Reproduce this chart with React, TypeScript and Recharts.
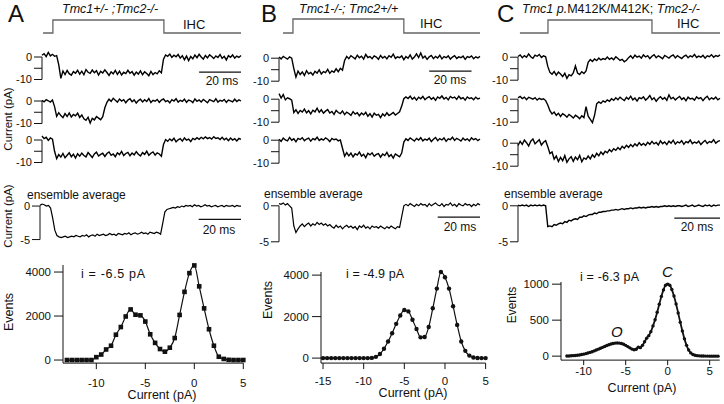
import React from 'react';
import { LineChart, Line, XAxis, YAxis, ReferenceLine } from 'recharts';

const FONT = '"Liberation Sans", Arial, Helvetica, sans-serif';
const INK = '#111';
const STIM = '#666';

// stimulus timing in ms: start, step on, step off, end
const stimTimesA = [0.5, 5.2, 58.2, 95];
const stimTimesB = [1.9, 6.6, 59, 95];
const stimTimesC = [0.9, 14.1, 63, 95];
const stimLevels = [0, 1, 0, 0];

// single-channel records, pA, one sample per ms (t = 0..95)
const traceA1 = [
  0.8, 1.5, 0.2, 2.0, 0.5, 1.2, 0.3, 0.6, -3.5, -9.5,
  -6.2, -7.8, -6.0, -7.4, -8.1, -6.5, -7.2, -5.9, -7.6, -6.3,
  -7.9, -5.6, -6.8, -7.3, -5.8, -7.0, -6.1, -8.0, -6.4, -7.1,
  -5.7, -6.9, -8.2, -6.6, -7.5, -6.0, -7.7, -6.3, -8.0, -6.8,
  -7.4, -5.9, -7.2, -6.5, -8.1, -6.7, -7.6, -6.2, -7.9, -6.6,
  -7.3, -8.3, -6.4, -7.8, -6.9, -7.5, -6.1, -7.0, -1.0, 0.9,
  0.3, 1.3, -0.2, 0.8, 0.1, 1.1, -0.5, 0.6, -1.2, 0.4,
  -1.6, 0.2, -0.8, 0.9, -0.3, 1.2, 0.0, -0.9, 0.7, -0.4,
  1.0, 0.2, -0.7, 0.5, -0.2, 1.1, -0.6, 0.3, -1.3, 0.6,
  -0.1, 0.9, -0.5, 0.4, -0.2, 0.7,
];
const traceA2 = [
  0.3, -0.4, 0.6, 0.1, -0.5, 0.4, -2.5, -6.8, -5.2, -6.5,
  -7.4, -5.6, -6.9, -5.3, -7.1, -6.0, -6.6, -5.4, -7.3, -6.2,
  -7.9, -8.6, -7.2, -9.8, -7.7, -8.4, -6.9, -7.6, -8.3, -7.0,
  -3.0, -0.6, 0.8, -0.2, 1.2, 0.3, -0.5, 0.9, 0.0, 0.6,
  -0.8, 0.4, 1.0, -0.3, 0.5, -0.9, 0.2, 0.8, -0.4, 0.6,
  -0.2, 1.1, -0.7, 0.3, -0.1, 0.7, -0.6, 0.4, 0.9, -0.3,
  0.2, -0.8, 0.6, 0.0, 1.0, -0.5, 0.3, -0.2, 0.8, -0.6,
  0.4, 0.1, -0.7, 0.9, -0.1, 0.5, -0.4, 0.7, 0.0, -0.8,
  0.6, 0.2, -0.3, 1.0, -0.5, 0.3, -0.1, 0.7, -0.6, 0.4,
  0.1, -0.4, 0.8, -0.2, 0.5, 0.0,
];
const traceA3 = [
  1.8, 0.6, 1.2, -0.2, 0.9, 0.4, -5.0, -8.3, -6.5, -7.6,
  -6.0, -7.9, -6.8, -5.7, -7.4, -6.3, -8.0, -6.1, -7.2, -5.8,
  -6.9, -7.5, -5.6, -6.7, -7.8, -6.2, -5.4, -7.1, -6.4, -5.9,
  -7.3, -6.0, -5.3, -6.8, -6.2, -7.4, -5.7, -6.5, -5.1, -6.9,
  -6.0, -5.5, -7.0, -5.8, -6.6, -5.2, -6.3, -7.1, -5.6, -6.4,
  -5.0, -6.8, -5.9, -5.3, -6.7, -5.7, -6.2, -7.2, -2.0, 0.2,
  -0.6, 0.5, -0.3, 0.8, -0.8, 0.1, 0.6, -0.5, 0.9, -0.1,
  0.4, -0.7, 0.7, 0.2, 1.0, 0.3, 1.2, 0.5, 1.4, 0.6,
  1.1, 0.4, 1.5, 0.7, 1.0, 0.2, 1.2, 0.1, 0.8, -0.3,
  0.9, 0.0, 0.6, -0.4, 0.7, 0.3,
];
const ensembleA = [
  0.1, 0.3, 0.2, 0.0, 0.1, -0.3, -1.8, -3.6, -4.4, -4.6,
  -4.7, -4.6, -4.5, -4.7, -4.6, -4.5, -4.6, -4.4, -4.5, -4.6,
  -4.4, -4.5, -4.3, -4.6, -4.4, -4.3, -4.5, -4.2, -4.4, -4.3,
  -4.2, -4.4, -4.3, -4.1, -4.3, -4.2, -4.4, -4.1, -4.2, -4.3,
  -4.1, -4.2, -4.0, -4.3, -4.1, -4.0, -4.2, -4.1, -3.9, -4.1,
  -4.0, -4.2, -3.9, -4.0, -4.1, -3.9, -4.0, -4.2, -2.6, -0.9,
  -0.5, -0.4, -0.3, -0.2, -0.3, -0.1, -0.2, 0.0, -0.1, 0.1,
  0.0, 0.1, -0.1, 0.2, 0.0, 0.1, -0.1, 0.0, 0.2, 0.0,
  0.1, -0.1, 0.0, 0.1, -0.1, 0.0, 0.1, -0.1, 0.1, 0.0,
  0.0, 0.1, -0.1, 0.1, 0.0, 0.0,
];

const traceB1 = [
  0.5, -0.3, 0.8, 0.2, -0.4, 0.6, 0.0, -4.5, -8.2, -5.6,
  -7.1, -6.0, -7.5, -5.4, -6.8, -6.2, -7.3, -5.7, -6.5, -5.1,
  -6.9, -5.8, -6.3, -4.9, -6.6, -5.5, -6.1, -4.6, -5.9, -4.4,
  -5.2, -1.0, 0.8, -0.2, 1.1, 0.4, -0.3, 1.3, 0.2, 0.9,
  -0.4, 1.6, 0.3, 0.7, -0.2, 1.0, 0.5, -0.5, 1.2, 0.1,
  0.8, -0.3, 1.1, 0.4, 1.8, -0.1, 0.6, 0.2, 1.0, -0.6,
  0.7, 0.0, 1.4, -0.4, 0.5, 1.9, 0.3, 2.3, 0.1, 0.9,
  -0.5, 0.6, 1.2, -0.2, 0.8, 0.1, 1.3, -0.3, 0.7, 0.2,
  1.0, -0.4, 0.5, 1.1, -0.1, 0.6, 0.2, 0.9, -0.5, 0.7,
  0.3, 1.0, -0.2, 0.6, 0.1, 0.8,
];
const traceB2 = [
  2.4, 0.5, 2.0, -0.3, 0.6, 0.2, -0.4, -5.8, -4.6, -6.2,
  -4.9, -5.6, -4.3, -5.9, -5.0, -6.4, -4.8, -5.5, -3.9, -5.7,
  -4.6, -6.1, -5.2, -4.5, -6.0, -5.3, -6.6, -4.9, -5.8, -6.3,
  -5.1, -6.7, -5.6, -6.2, -7.0, -5.4, -6.5, -5.9, -7.2, -6.0,
  -6.8, -5.7, -7.4, -6.3, -7.8, -6.1, -7.0, -6.6, -8.0, -6.4,
  -7.3, -5.9, -7.1, -6.5, -5.8, -6.9, -6.2, -5.5, -3.0, 0.2,
  1.0, 0.3, 1.3, 0.0, 0.8, -0.4, 0.9, 0.2, 1.2, -0.2,
  0.6, 1.1, 0.0, 0.7, -0.5, 1.0, 0.4, 1.4, 0.1, 0.8,
  -0.3, 1.2, 0.5, 0.9, -0.1, 1.3, 0.2, 0.7, -0.4, 1.0,
  0.3, 0.6, -0.2, 0.9, 0.1, 0.5,
];
const traceB3 = [
  0.4, -0.5, 0.9, 0.1, -0.3, 1.2, 0.0, 0.6, -0.7, 0.8,
  0.3, 1.1, -0.2, 0.5, 0.9, -0.4, 0.7, 0.2, 1.3, -0.1,
  0.6, 0.0, 1.0, 0.4, -0.6, 0.8, 0.2, 0.5, -0.3, 0.1,
  -3.5, -7.0, -5.4, -6.8, -5.6, -7.3, -5.9, -6.5, -5.2, -6.9,
  -6.1, -7.6, -5.7, -6.4, -5.5, -7.0, -6.2, -5.8, -7.4, -6.0,
  -6.7, -5.3, -7.1, -6.3, -7.8, -6.0, -6.6, -7.2, -5.6, -0.8,
  0.6, -0.1, 1.0, 0.3, -0.4, 0.8, 0.1, 1.1, -0.3, 0.5,
  0.0, 0.9, -0.6, 0.4, 1.2, -0.2, 0.7, 0.1, 1.0, -0.5,
  0.6, 0.2, 1.3, -0.1, 0.8, 0.3, -0.4, 0.9, 0.0, 0.6,
  -0.3, 1.0, 0.2, 0.7, -0.2, 0.5,
];
const ensembleB = [
  0.3, 0.2, 0.4, 0.1, 0.3, 0.0, -0.3, -2.8, -3.7, -3.2,
  -2.8, -2.5, -2.9, -2.6, -2.4, -2.8, -2.5, -2.7, -2.3, -2.6,
  -2.4, -2.7, -2.5, -2.8, -2.6, -2.9, -3.1, -2.7, -3.0, -2.8,
  -3.2, -2.9, -2.7, -3.0, -2.8, -3.1, -2.9, -3.3, -2.8, -3.0,
  -2.7, -3.1, -2.9, -3.2, -2.8, -3.0, -2.9, -3.1, -2.8, -3.0,
  -3.2, -2.9, -3.1, -2.8, -3.0, -3.2, -2.9, -3.0, -1.5, 0.0,
  0.2, 0.0, 0.3, 0.1, -0.1, 0.2, 0.0, 0.3, 0.1, 0.2,
  -0.1, 0.3, 0.0, 0.2, 0.4, 0.1, 0.0, 0.3, -0.1, 0.2,
  0.1, 0.4, 0.0, 0.2, -0.1, 0.3, 0.1, 0.0, 0.3, 0.1,
  0.2, -0.1, 0.2, 0.0, 0.3, 0.1,
];

const traceC1 = [
  0.3, 1.0, -0.2, 0.7, 0.0, 1.4, 0.2, -0.5, 0.9, 0.4,
  1.2, -0.1, 0.6, 0.2, -4.0, -6.6, -7.4, -6.2, -7.8, -6.5,
  -7.3, -8.4, -7.0, -9.2, -7.6, -8.1, -6.8, -3.8, -6.9, -7.5,
  -6.3, -7.1, -6.0, -2.2, -1.0, -1.9, -0.8, -1.5, -0.4, -1.2,
  -0.6, -1.0, 0.1, -0.9, -0.3, -1.1, 0.2, -0.6, -1.4, -0.9,
  -2.0, -1.3, -0.2, 0.6, -0.5, 0.9, 0.0, 0.5, -0.4, 1.0,
  0.1, 0.7, -0.6, 0.4, 1.1, -0.2, 0.6, 0.0, -0.7, 0.8,
  0.2, -0.4, 0.5, 1.0, -0.3, 0.7, 0.0, -0.6, 0.4, 0.9,
  -0.2, 0.6, 0.1, 1.2, -0.1, 0.5, 0.0, 0.8, -0.4, 0.6,
  0.2, 1.1, 0.0, 0.7, 0.3, 1.0,
];
const traceC2 = [
  0.6, 1.2, 0.3, 0.9, -0.2, 0.8, 0.5, 0.0, 0.7, -0.4,
  0.4, -0.1, 0.2, -0.6, -2.5, -5.0, -6.4, -5.6, -7.0, -6.1,
  -7.5, -6.3, -6.9, -7.8, -6.6, -7.3, -8.2, -7.0, -7.6, -8.5,
  -7.2, -8.0, -3.2, -7.4, -8.8, -10.2, -7.0, -2.0, -1.2, -1.8,
  -0.7, -1.3, -0.3, -0.9, 0.2, -0.5, 0.6, -0.2, 0.9, 0.1,
  -0.6, 0.8, 0.0, 1.3, -0.3, 0.5, -0.8, 0.7, 0.2, 1.0,
  -0.4, 0.4, 1.6, -0.2, 0.6, -0.9, 0.3, 1.1, 0.0, 0.7,
  -0.5, 1.9, 0.2, 0.8, -0.3, 0.5, 1.2, -0.1, 0.6, -0.7,
  0.9, 0.1, 0.4, -0.4, 1.0, 0.2, 0.7, -0.6, 0.5, 1.3,
  -0.2, 0.6, 0.0, 0.9, -0.3, 0.4,
];
const traceC3 = [
  -1.0, 0.8, -0.5, 1.4, 0.2, -1.2, 0.9, 1.8, -0.3, 0.6,
  1.5, -0.8, 0.4, 1.1, -1.5, -4.5, -3.8, -6.9, -5.6, -8.0,
  -6.2, -7.6, -5.4, -8.3, -6.8, -5.9, -7.9, -6.0, -7.2, -5.3,
  -8.1, -6.4, -7.0, -5.6, -6.8, -5.0, -6.1, -4.4, -5.5, -3.8,
  -4.9, -3.5, -4.2, -2.8, -3.7, -2.4, -3.1, -1.9, -2.8, -1.4,
  -2.2, -0.9, -1.8, -0.6, -1.5, -0.3, -1.2, 0.2, -0.9, -0.1,
  -1.0, 0.4, -0.5, 0.8, -0.3, 0.3, -0.8, 1.0, -0.2, 0.5,
  -0.6, 0.9, 0.0, 1.3, -0.4, 0.6, 0.1, 1.1, -0.5, 0.7,
  0.2, 1.4, -0.2, 0.5, 0.0, 0.9, -0.6, 0.4, 1.2, -0.1,
  0.7, 0.3, 1.5, 0.0, 0.8, 1.1,
];
const ensembleC = [
  0.1, 0.0, 0.1, 0.0, 0.1, -0.1, 0.1, 0.0, 0.1, 0.0,
  0.1, 0.0, 0.1, 0.0, -2.9, -2.8, -2.9, -2.6, -2.7, -2.5,
  -2.4, -2.5, -2.2, -2.3, -2.0, -2.1, -1.9, -1.8, -1.9, -1.6,
  -1.6, -1.4, -1.5, -1.3, -1.2, -1.2, -1.0, -1.1, -0.9, -0.9,
  -0.8, -0.8, -0.7, -0.7, -0.6, -0.6, -0.5, -0.6, -0.5, -0.4,
  -0.5, -0.4, -0.4, -0.3, -0.4, -0.3, -0.3, -0.2, -0.3, -0.2,
  -0.3, -0.2, -0.2, -0.1, -0.2, -0.1, -0.2, -0.1, -0.1, 0.0,
  -0.1, 0.0, -0.1, 0.0, -0.1, 0.0, 0.0, -0.1, 0.0, 0.1,
  -0.1, 0.0, 0.1, -0.1, 0.0, 0.1, 0.0, -0.1, 0.1, 0.0,
  0.1, -0.1, 0.1, 0.0, 0.1, 0.1,
];

// all-points amplitude histograms
const histAX = [
  -13, -12.5, -12, -11.5, -11, -10.5, -10, -9.5, -9, -8.5, -8, -7.5, -7, -6.5, -6, -5.5, -5, -4.5, -4,
  -3.5, -3, -2.5, -2, -1.5, -1, -0.5, 0, 0.5, 1, 1.5, 2, 2.5, 3, 3.5, 4, 4.5, 5,
];
const histAY = [
  0, 0, 0, 0, 0, 0, 130, 250, 480, 650, 1150, 1500, 1980, 2300, 2060, 2030, 1750, 1170, 780,
  500, 380, 560, 1000, 2050, 3100, 3950, 4300, 3350, 2350, 1400, 650, 150, 50, 10, 0, 0, 0,
];
const histBX = [
  -15, -14.5, -14, -13.5, -13, -12.5, -12, -11.5, -11, -10.5, -10, -9.5, -9, -8.5, -8, -7.5, -7,
  -6.5, -6, -5.5, -5, -4.5, -4, -3.5, -3, -2.5, -2, -1.5, -1, -0.5, 0, 0.5, 1, 1.5, 2, 2.5, 3,
  3.5, 4, 4.5, 5,
];
const histBY = [
  0, 0, 0, 0, 0, 0, 0, 0, 0, 0, 0, 0, 10, 60, 200, 450, 800,
  1200, 1650, 2050, 2320, 2250, 1850, 1400, 1000, 1020, 1500, 2400, 3350, 4150, 3900, 3350, 2500, 1600, 800, 350, 120,
  30, 5, 0, 0,
];
const histCX = [
  -12, -11.75, -11.5, -11.25, -11, -10.75, -10.5, -10.25, -10, -9.75, -9.5, -9.25, -9, -8.75,
  -8.5, -8.25, -8, -7.75, -7.5, -7.25, -7, -6.75, -6.5, -6.25, -6, -5.75, -5.5, -5.25, -5,
  -4.75, -4.5, -4.25, -4, -3.75, -3.5, -3.25, -3, -2.75, -2.5, -2.25, -2, -1.75, -1.5, -1.25,
  -1, -0.75, -0.5, -0.25, 0, 0.25, 0.5, 0.75, 1, 1.25, 1.5, 1.75, 2, 2.25, 2.5, 2.75, 3, 3.25,
  3.5, 3.75, 4, 4.25, 4.5, 4.75, 5, 5.25, 5.5, 5.75, 6,
];
const histCY = [
  2, 3, 5, 7, 10, 13, 17, 22, 28, 35, 43, 52, 62, 73,
  85, 97, 110, 122, 135, 147, 158, 168, 176, 181, 183, 181, 175, 165, 150,
  133, 115, 98, 88, 95, 125, 118, 150, 200, 250, 285, 340, 420, 505, 610,
  720, 830, 920, 985, 1000, 985, 925, 835, 725, 600, 470, 350, 240, 150, 85, 45, 22, 12,
  7, 4, 3, 2, 1, 1, 0, 0, 0, 0, 0,
];

type Bar = { y: number; from: number; to: number };

type TraceProps = {
  values: number[];
  axisX: number;
  zeroY: number;
  pxPerPA: number;
  plotW: number;
  yMin: number;
  yMax: number;
  ticks: number[];
  labels: number[];
  bracket: number;
  lineW: number;
  bar?: Bar;
};

function Trace({ values, axisX, zeroY, pxPerPA, plotW, yMin, yMax, ticks, labels, bracket, lineW, bar }: TraceProps) {
  const axisW = 30;
  const rows = values.map((v, i) => ({ t: i, v }));
  const h = (yMax - yMin) * pxPerPA;
  return (
    <div style={{ position: 'absolute', left: axisX - axisW, top: zeroY - yMax * pxPerPA }}>
      <LineChart width={axisW + plotW + 2} height={h} data={rows} margin={{ top: 0, right: 2, bottom: 0, left: 0 }}>
        <XAxis type="number" dataKey="t" domain={[0, 95]} hide />
        <YAxis
          width={axisW}
          type="number"
          domain={[yMin, yMax]}
          ticks={ticks}
          interval={0}
          axisLine={false}
          tickLine={{ stroke: INK }}
          tickSize={8}
          tickMargin={2}
          tick={(p: any) =>
            labels.includes(p.payload.value) ? (
              <text x={p.x} y={p.y} dy="0.36em" textAnchor="end" fontSize={11} fontFamily={FONT} fill={INK}>
                {p.payload.value}
              </text>
            ) : (
              <g />
            )
          }
        />
        <ReferenceLine segment={[{ x: 0, y: 0 }, { x: 0, y: bracket }]} stroke={INK} strokeWidth={1} />
        <Line dataKey="v" type="linear" dot={false} stroke="#000" strokeWidth={lineW} isAnimationActive={false} />
        {bar && (
          <ReferenceLine segment={[{ x: bar.from, y: bar.y }, { x: bar.to, y: bar.y }]} stroke={INK} strokeWidth={1.2} />
        )}
      </LineChart>
    </div>
  );
}

function Stimulus({ times, axisX, plotW, top, bottom }: { times: number[]; axisX: number; plotW: number; top: number; bottom: number }) {
  const rows = times.map((t, i) => ({ t, v: stimLevels[i] }));
  return (
    <div style={{ position: 'absolute', left: axisX - 1, top: top - 2 }}>
      <LineChart width={plotW + 2} height={bottom - top + 4} data={rows} margin={{ top: 2, right: 1, bottom: 2, left: 1 }}>
        <XAxis type="number" dataKey="t" domain={[0, 95]} hide />
        <YAxis type="number" domain={[0, 1]} hide />
        <Line dataKey="v" type="stepAfter" dot={false} stroke={STIM} strokeWidth={1.3} isAnimationActive={false} />
      </LineChart>
    </div>
  );
}

type HistProps = {
  xs: number[];
  ys: number[];
  axisX: number;
  zeroY: number;
  pxPerEvt: number;
  pxPerPA: number;
  xDomain: [number, number];
  yDomain: [number, number];
  xTicks: number[];
  yTicks: number[];
  marker: 'square' | 'circle';
  markerSize: number;
  lineW: number;
  xTickSize: number;
  xTickMargin: number;
};

function Histogram(p: HistProps) {
  const yAxisW = 40;
  const xAxisH = 26;
  const padTop = 6;
  const rows = p.xs.map((x, i) => ({ x, n: p.ys[i] }));
  const plotW = (p.xDomain[1] - p.xDomain[0]) * p.pxPerPA;
  const plotH = (p.yDomain[1] - p.yDomain[0]) * p.pxPerEvt;
  const s = p.markerSize;
  const dot = (d: any) =>
    p.marker === 'square' ? (
      <rect key={`d${d.index}`} x={d.cx - s / 2} y={d.cy - s / 2} width={s} height={s} fill={INK} />
    ) : (
      <circle key={`d${d.index}`} cx={d.cx} cy={d.cy} r={s / 2} fill={INK} />
    );
  return (
    <div style={{ position: 'absolute', left: p.axisX - yAxisW, top: p.zeroY - p.yDomain[1] * p.pxPerEvt - padTop }}>
      <LineChart
        width={yAxisW + plotW + 8}
        height={plotH + xAxisH + padTop}
        data={rows}
        margin={{ top: padTop, right: 8, bottom: 0, left: 0 }}
      >
        <XAxis
          type="number"
          dataKey="x"
          domain={p.xDomain}
          ticks={p.xTicks}
          interval={0}
          height={xAxisH}
          axisLine={{ stroke: INK }}
          tickLine={{ stroke: INK }}
          tickSize={p.xTickSize}
          tickMargin={p.xTickMargin}
          tick={{ fill: INK, fontSize: 11.5, fontFamily: FONT }}
        />
        <YAxis
          width={yAxisW}
          type="number"
          domain={p.yDomain}
          ticks={p.yTicks}
          interval={0}
          axisLine={{ stroke: INK }}
          tickLine={{ stroke: INK }}
          tickSize={9}
          tickMargin={3}
          tick={{ fill: INK, fontSize: 11.5, fontFamily: FONT }}
        />
        <Line dataKey="n" type="monotone" stroke={INK} strokeWidth={p.lineW} dot={dot} isAnimationActive={false} />
      </LineChart>
    </div>
  );
}

const txt = { fontFamily: FONT, fill: INK } as const;

export default function App() {
  const trTicks = [0, -5, -10];
  const trLabels = [0, -10];
  const enTicks = [0, -5];
  return (
    <div style={{ position: 'absolute', left: 0, top: 0, width: 724, height: 404, background: '#fff', overflow: 'hidden' }}>
      {/* panel A */}
      <Stimulus times={stimTimesA} axisX={42} plotW={199} top={20} bottom={33} />
      <Trace values={traceA1} axisX={42} zeroY={57} pxPerPA={2.25} plotW={199} yMin={-14} yMax={4} ticks={trTicks} labels={trLabels} bracket={-10} lineW={1.4} bar={{ y: -6.7, from: 75, to: 95 }} />
      <Trace values={traceA2} axisX={42} zeroY={100.5} pxPerPA={2.25} plotW={199} yMin={-14} yMax={4} ticks={trTicks} labels={trLabels} bracket={-10} lineW={1.4} />
      <Trace values={traceA3} axisX={42} zeroY={139.5} pxPerPA={2.25} plotW={199} yMin={-14} yMax={4} ticks={trTicks} labels={trLabels} bracket={-10} lineW={1.4} />
      <Trace values={ensembleA} axisX={40} zeroY={206.5} pxPerPA={6.7} plotW={201} yMin={-6} yMax={1.5} ticks={enTicks} labels={enTicks} bracket={-5} lineW={1.2} bar={{ y: -2.0, from: 75, to: 95 }} />
      <Histogram xs={histAX} ys={histAY} axisX={63} zeroY={360} pxPerEvt={0.022} pxPerPA={9.8} xDomain={[-13.4, 5]} yDomain={[-140, 4320]} xTicks={[-10, -5, 0, 5]} yTicks={[0, 2000, 4000]} marker="square" markerSize={4.6} lineW={1.2} xTickSize={6} xTickMargin={10} />

      {/* panel B */}
      <Stimulus times={stimTimesB} axisX={279} plotW={201} top={19} bottom={33} />
      <Trace values={traceB1} axisX={279} zeroY={58} pxPerPA={2.3} plotW={201} yMin={-14} yMax={4} ticks={trTicks} labels={trLabels} bracket={-10} lineW={1.4} bar={{ y: -5.65, from: 71, to: 91 }} />
      <Trace values={traceB2} axisX={279} zeroY={99.5} pxPerPA={2.3} plotW={201} yMin={-14} yMax={4} ticks={trTicks} labels={trLabels} bracket={-10} lineW={1.4} />
      <Trace values={traceB3} axisX={279} zeroY={140.5} pxPerPA={2.3} plotW={201} yMin={-14} yMax={4} ticks={trTicks} labels={trLabels} bracket={-10} lineW={1.4} />
      <Trace values={ensembleB} axisX={279} zeroY={206} pxPerPA={7.2} plotW={201} yMin={-6} yMax={1.5} ticks={enTicks} labels={enTicks} bracket={-5} lineW={1.2} bar={{ y: -1.57, from: 75, to: 95 }} />
      <Histogram xs={histBX} ys={histBY} axisX={321} zeroY={358} pxPerEvt={0.02075} pxPerPA={8.13} xDomain={[-15.25, 5]} yDomain={[-240, 4150]} xTicks={[-15, -10, -5, 0, 5]} yTicks={[0, 2000, 4000]} marker="circle" markerSize={4.4} lineW={1.2} xTickSize={6} xTickMargin={8} />

      {/* panel C */}
      <Stimulus times={stimTimesC} axisX={518} plotW={202} top={20} bottom={33} />
      <Trace values={traceC1} axisX={518} zeroY={57} pxPerPA={2.3} plotW={202} yMin={-14} yMax={4} ticks={trTicks} labels={trLabels} bracket={-10} lineW={1.4} />
      <Trace values={traceC2} axisX={518} zeroY={99.5} pxPerPA={2.3} plotW={202} yMin={-14} yMax={4} ticks={trTicks} labels={trLabels} bracket={-10} lineW={1.4} />
      <Trace values={traceC3} axisX={518} zeroY={143} pxPerPA={2.3} plotW={202} yMin={-14} yMax={4} ticks={trTicks} labels={trLabels} bracket={-10} lineW={1.4} />
      <Trace values={ensembleC} axisX={518} zeroY={206} pxPerPA={7.2} plotW={202} yMin={-6} yMax={1.5} ticks={enTicks} labels={enTicks} bracket={-5} lineW={1.4} bar={{ y: -1.7, from: 73.5, to: 95 }} />
      <Histogram xs={histCX} ys={histCY} axisX={561} zeroY={356} pxPerEvt={0.072} pxPerPA={8.4} xDomain={[-12.7, 6.2]} yDomain={[-55, 1030]} xTicks={[-10, -5, 0, 5]} yTicks={[0, 500, 1000]} marker="circle" markerSize={3.4} lineW={1.8} xTickSize={5} xTickMargin={2} />

      <svg width={724} height={404} style={{ position: 'absolute', left: 0, top: 0, pointerEvents: 'none' }}>
        <text x={8} y={22} fontSize={24} {...txt}>A</text>
        <text x={261} y={22} fontSize={24} {...txt}>B</text>
        <text x={497} y={22} fontSize={24} {...txt}>C</text>

        <text x={62} y={12.5} fontSize={12.5} fontStyle="italic" {...txt}>Tmc1+/- ;Tmc2-/-</text>
        <text x={299} y={12.5} fontSize={12.5} fontStyle="italic" {...txt}>Tmc1-/-; Tmc2+/+</text>
        <text x={522} y={12.5} fontSize={12.5} {...txt}>
          <tspan fontStyle="italic">Tmc1 p.</tspan>
          <tspan>M412K/M412K; </tspan>
          <tspan fontStyle="italic">Tmc2-/-</tspan>
        </text>

        <text x={183} y={29.3} fontSize={13} {...txt}>IHC</text>
        <text x={420} y={28.3} fontSize={13} {...txt}>IHC</text>
        <text x={677} y={28.3} fontSize={13} {...txt}>IHC</text>

        <text transform="translate(11.5,119) rotate(-90)" textAnchor="middle" fontSize={11.5} {...txt}>Current (pA)</text>
        <text transform="translate(11.5,216) rotate(-90)" textAnchor="middle" fontSize={11.5} {...txt}>Current (pA)</text>

        <text x={222} y={85} textAnchor="middle" fontSize={12} {...txt}>20 ms</text>
        <text x={450} y={84} textAnchor="middle" fontSize={12} {...txt}>20 ms</text>
        <text x={219} y={234} textAnchor="middle" fontSize={12} {...txt}>20 ms</text>
        <text x={460} y={231} textAnchor="middle" fontSize={12} {...txt}>20 ms</text>
        <text x={697} y={231} textAnchor="middle" fontSize={12} {...txt}>20 ms</text>

        <text x={27} y={198.5} fontSize={12} {...txt}>ensemble average</text>
        <text x={264} y={197.5} fontSize={12} {...txt}>ensemble average</text>
        <text x={504} y={197.5} fontSize={12} {...txt}>ensemble average</text>

        <text transform="translate(12.5,312) rotate(-90)" textAnchor="middle" fontSize={12.5} {...txt}>Events</text>
        <text transform="translate(272,300) rotate(-90)" textAnchor="middle" fontSize={12.5} {...txt}>Events</text>
        <text transform="translate(516,305) rotate(-90)" textAnchor="middle" fontSize={12} {...txt}>Events</text>

        <text x={162} y={399} textAnchor="middle" fontSize={12.5} {...txt}>Current (pA)</text>
        <text x={413} y={397} textAnchor="middle" fontSize={12.5} {...txt}>Current (pA)</text>
        <text x={642} y={392} textAnchor="middle" fontSize={12.5} {...txt}>Current (pA)</text>

        <text x={81} y={278} fontSize={12.5} textLength={64} lengthAdjust="spacing" {...txt}>i = -6.5 pA</text>
        <text x={346} y={278} fontSize={12.5} textLength={58} lengthAdjust="spacing" {...txt}>i = -4.9 pA</text>
        <text x={580} y={281} fontSize={12.5} textLength={59} lengthAdjust="spacing" {...txt}>i = -6.3 pA</text>
        <text x={662} y={277} fontSize={15} fontStyle="italic" {...txt}>C</text>
        <text x={611} y={337} fontSize={15} fontStyle="italic" {...txt}>O</text>
      </svg>
    </div>
  );
}
